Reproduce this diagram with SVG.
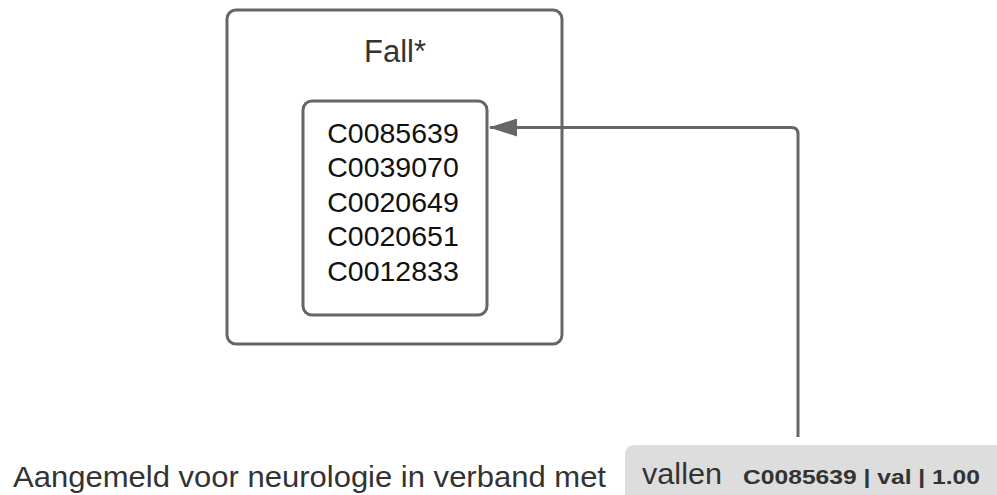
<svg xmlns="http://www.w3.org/2000/svg" width="997" height="495" viewBox="0 0 997 495">
  <style>
    .box { fill: #ffffff; stroke: #666666; stroke-width: 3; }
    .title { font-family: "Liberation Sans", Arial, sans-serif; font-size: 31px; fill: #333333; text-anchor: middle; }
    .code { font-family: "Liberation Sans", Arial, sans-serif; font-size: 28.5px; fill: #111111; text-anchor: middle; }
    .sent { font-family: "Liberation Sans", Arial, sans-serif; font-size: 29px; fill: #333333; }
    .tag { font-family: "Liberation Sans", Arial, sans-serif; font-size: 21px; font-weight: bold; fill: #333333; }
    .link { fill: none; stroke: #666666; stroke-width: 3; }
  </style>
  <defs>
    <marker id="arrowBig" viewBox="0 0 28 18" refX="27" refY="9" markerWidth="28" markerHeight="18" markerUnits="userSpaceOnUse" orient="auto">
      <path d="M0,0 L28,9 L0,18 Z" fill="#666666"/>
    </marker>
  </defs>

  <!-- concept group "Fall*" -->
  <g id="fall-group">
    <rect class="box" x="227" y="10" width="335" height="334" rx="9"/>
    <text class="title" x="395" y="62">Fall*</text>
  </g>

  <!-- list of concept codes -->
  <g id="code-list">
    <rect class="box" x="303" y="101" width="184" height="214" rx="9"/>
    <text class="code" x="393" y="143">C0085639</text>
    <text class="code" x="393" y="177">C0039070</text>
    <text class="code" x="393" y="212">C0020649</text>
    <text class="code" x="393" y="246">C0020651</text>
    <text class="code" x="393" y="281">C0012833</text>
  </g>

  <!-- annotated sentence -->
  <g id="sentence">
    <text class="sent" x="13" y="487" textLength="593" lengthAdjust="spacingAndGlyphs">Aangemeld voor neurologie in verband met</text>
  </g>

  <!-- highlighted token with its concept annotation -->
  <g id="token-vallen">
    <path d="M625,495 L625,455 Q625,445 635,445 L1000,445 L1000,495 Z" fill="#dddddd"/>
    <text class="sent" x="642" y="484" textLength="80" lengthAdjust="spacingAndGlyphs">vallen</text>
    <text class="tag" x="743" y="484" textLength="237" lengthAdjust="spacingAndGlyphs">C0085639 | val | 1.00</text>
  </g>

  <!-- connectors -->
  <g id="connectors">
    <path class="link" d="M798,437 L798,134 Q798,127.5 791.5,127.5 L490,127.5" marker-end="url(#arrowBig)"/>
  </g>
</svg>
